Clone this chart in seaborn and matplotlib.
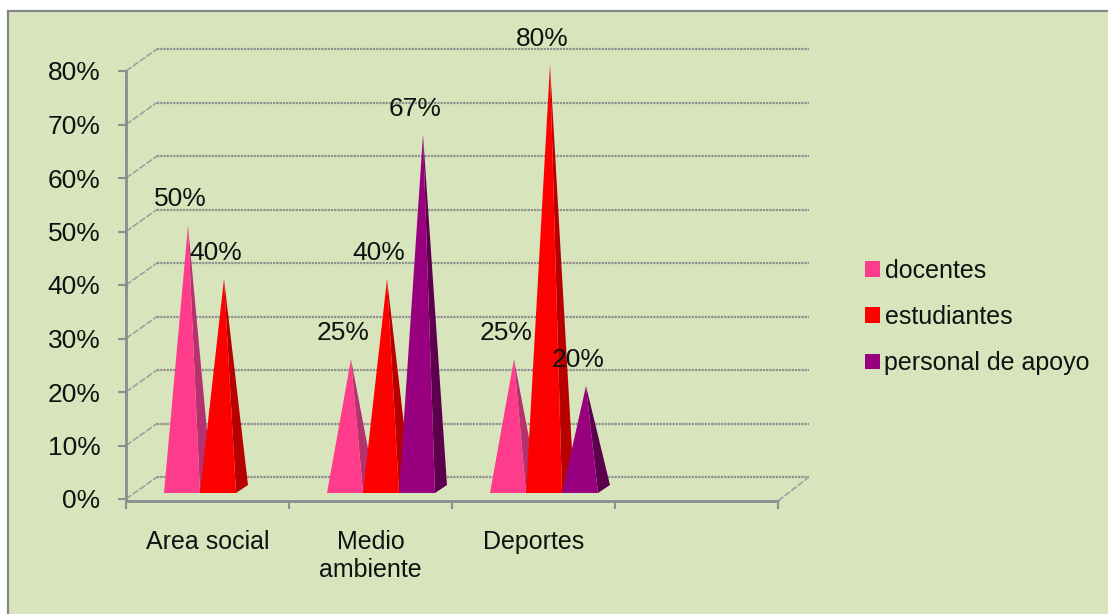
import matplotlib
matplotlib.use("Agg")
import matplotlib.pyplot as plt
from matplotlib.patches import Polygon, Rectangle
from matplotlib.ticker import PercentFormatter
import pandas as pd
import seaborn as sns

categories = ["Area social", "Medio\nambiente", "Deportes", ""]
series = ["docentes", "estudiantes", "personal de apoyo"]
docentes = [0.50, 0.25, 0.25]
estudiantes = [0.40, 0.40, 0.80]
personal_de_apoyo = [None, 0.67, 0.20]

front_colors = ["#FF3B8C", "#FF0000", "#990080"]
side_colors = ["#B5326F", "#B80000", "#5C004D"]
grid_color = "#8E8E8E"
grid_style = (0, (1.0, 0.45))
text_color = "#111111"

W, H = 1108, 614
LEFT, RIGHT, TOP, BOTTOM = 126, 778, 71, 499
sx = 4 / (RIGHT - LEFT)         # data units per pixel, horizontally
sy = 0.8 / (BOTTOM - TOP)       # data units per pixel, vertically

sns.set_theme(style="white")
plt.rcParams["font.family"] = ["Liberation Sans", "DejaVu Sans"]
FS = 18
FS_PCT = 19

fig = plt.figure(figsize=(W / 100, H / 100), dpi=100, facecolor="white")
# chart area: only its top and left edges fall inside the canvas
fig.add_artist(Rectangle((8.2 / W, -0.05), 1.1, 1.05 - 11 / H, transform=fig.transFigure,
                         facecolor="#D8E4BC", edgecolor="#868686", lw=1.6, zorder=-1))
ax = fig.add_axes([LEFT / W, 1 - BOTTOM / H, (RIGHT - LEFT) / W, (BOTTOM - TOP) / H])
ax.patch.set_visible(False)

rows = [(c, s, v) for s, vals in zip(series, (docentes, estudiantes, personal_de_apoyo))
        for c, v in zip(categories, vals)]
df = pd.DataFrame(rows, columns=["categoria", "grupo", "valor"]).dropna()

sns.barplot(data=df, x="categoria", y="valor", hue="grupo", order=categories, hue_order=series,
            palette=front_colors, saturation=1, width=0.6626, gap=0, errorbar=None, ax=ax)
ax.set_xlim(-0.5, 3.5)
ax.set_ylim(0, 0.8)
ax.set_xlabel("")
ax.set_ylabel("")
ax.yaxis.set_major_formatter(PercentFormatter(1, decimals=0))
ax.set_yticks([i / 10 for i in range(9)])
ax.set_xticks(range(4))
ax.set_xticklabels(categories, linespacing=1.42)
ax.set_xticks([i + 0.5 for i in range(-1, 4)], minor=True)
ax.tick_params(axis="x", which="major", length=0, pad=21, labelsize=FS, labelcolor=text_color)
ax.tick_params(axis="x", which="minor", length=5.5, width=1.5, color=grid_color, bottom=True)
ax.tick_params(axis="y", length=5.5, width=1.5, color=grid_color, left=True, pad=13,
               labelsize=FS_PCT, labelcolor=text_color)
for name in ("top", "right"):
    ax.spines[name].set_visible(False)
for name in ("left", "bottom"):
    ax.spines[name].set_color(grid_color)
    ax.spines[name].set_linewidth(2)
    ax.spines[name].set_linestyle(grid_style)
ax.spines["bottom"].set_position(("outward", 1.4))

# back wall gridlines and the floor/wall connectors
wall_x, wall_y = 31 * sx, 22 * sy
for tick in ax.get_yticks():
    ax.plot([-0.5, -0.5 + wall_x], [tick, tick + wall_y], color="#A0A0A0", lw=1.2,
            ls=(0, (4, 1)), clip_on=False, zorder=1)
    ax.plot([-0.5 + wall_x, 3.5 + wall_x], [tick + wall_y, tick + wall_y],
            color=grid_color, lw=1.6, ls=grid_style, clip_on=False, zorder=1)
ax.plot([3.5, 3.5 + wall_x], [-2 * sy, wall_y], color="#A0A0A0", lw=1.2, ls=(0, (4, 1)),
        clip_on=False, zorder=1)

# redraw each bar as a pyramid with a front and a side face
floor_x, floor_y = 10.5 * sx, 6 * sy
depth_x, depth_y = 12 * sx, 8 * sy
level_of = {tuple(c): i for i, c in enumerate(matplotlib.colors.to_rgba_array(front_colors))}
bars = [b for cont in ax.containers for b in cont if b.get_height() > 0]
for bar in bars:
    level = level_of[tuple(bar.get_facecolor())]
    x0 = bar.get_x() + floor_x
    x1 = x0 + bar.get_width()
    value = bar.get_height()
    apex = ((x0 + x1) / 2 + depth_x / 2, value + floor_y)
    ax.add_patch(Polygon([(x1, floor_y), (x1 + depth_x, floor_y + depth_y), apex],
                         facecolor=side_colors[level], edgecolor="none", clip_on=False, zorder=3 + level))
    ax.add_patch(Polygon([(x0, floor_y), (x1, floor_y), apex],
                         facecolor=front_colors[level], edgecolor="none", clip_on=False, zorder=3 + level))
    ax.text((x0 + x1) / 2 - 2 * sx, value + 32 * sy, f"{value:.0%}", ha="center", va="center",
            fontsize=FS_PCT, color=text_color, zorder=10, clip_on=False)
    bar.set_visible(False)

sns.move_legend(ax, "center left", bbox_to_anchor=(842 / W, 1 - 317 / H),
                bbox_transform=fig.transFigure, frameon=False, title=None, fontsize=FS,
                handlelength=0.6, handleheight=0.6, handletextpad=0.2, labelspacing=0.89,
                labelcolor=text_color)
for handle in ax.get_legend().legend_handles:
    handle.set_edgecolor("none")

fig.savefig("out.png", dpi=100)
